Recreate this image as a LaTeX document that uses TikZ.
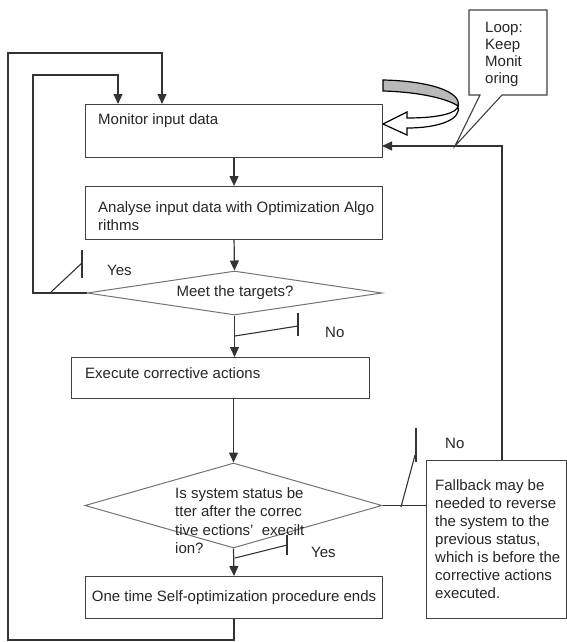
\documentclass[tikz,border=0pt]{standalone}
\usepackage{fontspec}
\setmainfont{Liberation Sans}
\usetikzlibrary{arrows.meta,shapes.geometric}
\begin{document}
\begin{tikzpicture}[x=1pt,y=-1pt,
  box/.style={draw=black!75, line width=1.1pt, fill=white, inner sep=0pt, anchor=north west},
  dia/.style={diamond, draw=black!55, line width=1pt, inner sep=0pt},
  txt/.style={inner sep=0pt, font=\fontsize{15}{18}\selectfont, text=black!85},
  conn/.style={draw=black!80, line width=1.2pt},
  arr/.style={conn, -{Triangle[length=10pt,width=9pt]}},
  tick/.style={draw=black!80, line width=1.1pt}
]
\useasboundingbox (0,0) rectangle (567,642);

% boxes
\node[box, minimum width=297pt, minimum height=53pt] (mon) at (85,104) {};
\node[txt, anchor=west] (montxt) at (98,121) {Monitor input data};

\node[box, minimum width=297pt, minimum height=53pt] (ana) at (85,186) {};
\node[txt, anchor=north west, align=left] (anatxt) at (98,201) {Analyse input data with Optimization Algo\\rithms};

\node[dia, minimum width=295pt, minimum height=44pt] (d1) at (234.5,293) {};
\node[txt] (d1txt) at (235,293) {Meet the targets?};

\node[box, minimum width=298pt, minimum height=41pt] (exe) at (71,357) {};
\node[txt, anchor=west] (exetxt) at (85,373) {Execute corrective actions};

\node[dia, minimum width=297pt, minimum height=85pt] (d2) at (233.5,505.5) {};
\node[txt, anchor=north west, align=left, font=\fontsize{15}{18.5}\selectfont] (d2txt) at (175,487)
  {Is system status be\\tter after the correc\\tive ections’~ execilt\\ion?};

\node[box, minimum width=297pt, minimum height=42pt] (fin) at (85,576) {};
\node[txt] (fintxt) at (fin.center) {One time Self-optimization procedure ends};

\node[box, minimum width=140pt, minimum height=158pt] (fb) at (426,460) {};
\node[txt, anchor=north west, align=left] (fbtxt) at (435,479)
  {Fallback may be\\needed to reverse\\the system to the\\previous status,\\which is before the\\corrective actions\\executed.};

% callout
\draw[draw=black!75, line width=1.1pt, fill=white]
  (469,10) -- (547,10) -- (547,95) -- (502,95) -- (455,146) -- (480,95) -- (469,95) -- cycle;
\node[txt, anchor=north west, align=left, font=\fontsize{15}{17}\selectfont] (calltxt) at (485,22)
  {Loop:\\Keep\\Monit\\oring};

% curved arrow
\draw[black, line width=1.2pt, fill=gray!55]
  (383,80) .. controls (430,81) and (462,92) .. (458,106)
  .. controls (448,99) and (420,92) .. (383,91) -- cycle;
\draw[black, line width=1.2pt, fill=white]
  (458,106) .. controls (457,113) and (440,118) .. (407,118)
  -- (407,112) -- (383,124) -- (407,135) -- (407,128)
  .. controls (440,128) and (462,119) .. (458,106) -- cycle;

% coordinates
\coordinate (in1) at (118,104);
\coordinate (in2) at (162,104);
\coordinate (inl) at (33,75);
\coordinate (outtl) at (8,53);
\coordinate (outbl) at (8,640);
\coordinate (fbtop) at (502,460);
\coordinate (in3) at (382,146);

% connectors
\draw[arr] (mon.south) -- (ana.north);
\draw[arr] (ana.south) -- (d1.north);
\draw[arr] (d1.south) -- (d1.south |- exe.north);
\draw[arr] (d2.north |- exe.south) -- (d2.north);
\draw[arr] (d2.south) -- (fin.north);
\draw[arr] (d1.west) -| (inl) -| (in1);
\draw[arr] (fin.south) |- (outbl) -- (outtl) -| (in2);
\draw[conn] (d2.east) -- (fb.west |- d2.east);
\draw[arr] (fbtop) |- (in3);

% label ticks
\draw[tick] (50,293) -- (82,263);
\draw[tick] (82,250) -- (82,278);
\draw[tick] (235,336) -- (298,326);
\draw[tick] (298,313) -- (298,336);
\draw[tick] (235,558) -- (287,545);
\draw[tick] (287,535) -- (287,555);
\draw[tick] (401,507) -- (415,455);
\draw[tick] (416,428) -- (416,462);

% labels
\node[txt, anchor=west] (yes1) at (107,270) {Yes};
\node[txt, anchor=west] (no1) at (325,332) {No};
\node[txt, anchor=west] (yes2) at (311,552) {Yes};
\node[txt, anchor=west] (no2) at (445,443) {No};
\end{tikzpicture}
\end{document}
